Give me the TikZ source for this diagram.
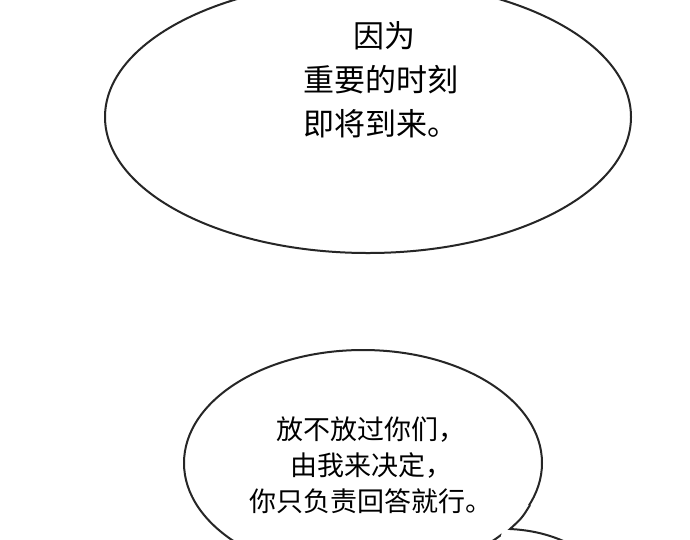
\documentclass[tikz,border=0pt]{standalone}
\usepackage{fontspec}
\newfontfamily\cjk{Noto Sans CJK SC}
\begin{document}
\begin{tikzpicture}[x=1pt,y=-1pt,bubble/.style={draw=black!85,line width=2pt,fill=white},
 txt/.style={font=\cjk\fontsize{31}{44}\selectfont,align=left,text=black}]
\useasboundingbox[fill=white] (0,0) rectangle (690,539);
\begin{scope}
\clip (0,0) rectangle (690,539);
\draw[bubble] (368,117) ellipse [x radius=263, y radius=136];
\draw[bubble] (363,463) ellipse [x radius=179, y radius=113];
\fill[white] (505,505) -- (535,505) -- (600,545) -- (500,545) -- cycle;
\draw[draw=black!85,line width=2pt] (530,505) .. controls (522,518) .. (510,529) .. controls (530,530) and (550,534) .. (572,545);
\end{scope}
\node[txt] (t1) at (381,80) {\hspace*{1.6em}因为\\重要的时刻\\即将到来。};
\node[txt,font=\cjk\fontsize{27}{36}\selectfont,align=center] (t2) at (371,465) {放不放过你们，\\由我来决定，\\你只负责回答就行。};
\end{tikzpicture}
\end{document}
